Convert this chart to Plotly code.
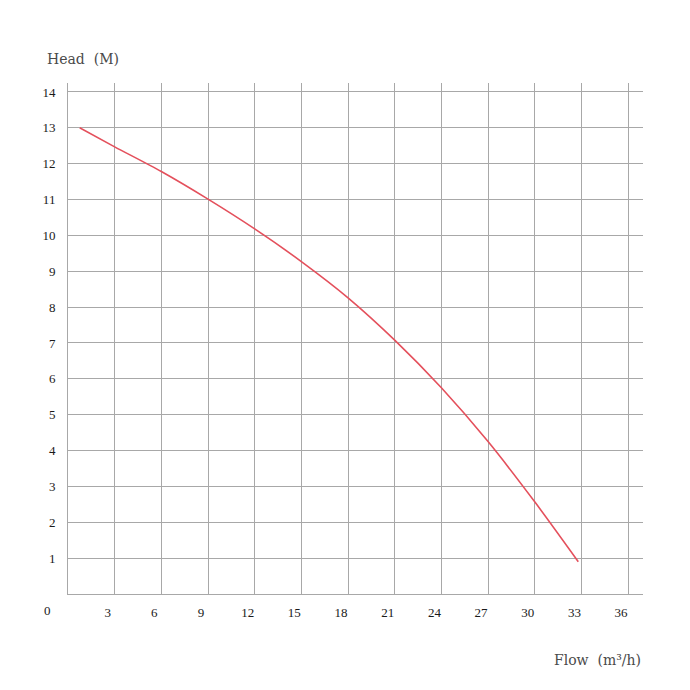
import plotly.graph_objects as go

flow = [0.75, 3, 6, 9, 12, 15, 18, 21, 24, 27, 30, 32.8]
head = [13.0, 12.47, 11.78, 11.01, 10.18, 9.27, 8.26, 7.08, 5.75, 4.25, 2.57, 0.90]

x_ticks = [3, 6, 9, 12, 15, 18, 21, 24, 27, 30, 33, 36]
y_ticks = list(range(1, 15))

grid = "#a8a8a8"
tickfont = dict(family="Liberation Serif", size=13, color="#1a1a1a")
titlefont = dict(family="DejaVu Serif", size=14, color="#4a4a4a")

fig = go.Figure()
fig.add_trace(go.Scatter(x=flow, y=head, mode="lines",
                         line=dict(color="#e4505c", width=1.6, shape="spline", smoothing=0.8),
                         hoverinfo="skip", showlegend=False))

fig.update_layout(
    width=682, height=682,
    margin=dict(l=60, r=47, t=75, b=96),
    paper_bgcolor="white", plot_bgcolor="white",
    showlegend=False,
    xaxis=dict(range=[0, 36.96], tickvals=x_ticks, ticktext=[str(v) for v in x_ticks],
               showgrid=True, gridcolor=grid, gridwidth=1, zeroline=False,
               showline=True, linecolor=grid, linewidth=1,
               ticks="", tickfont=tickfont, ticklabelshift=-7, ticklabelstandoff=6,
               fixedrange=True),
    yaxis=dict(range=[0, 14.25], tickvals=y_ticks, ticktext=[str(v) for v in y_ticks],
               showgrid=True, gridcolor=grid, gridwidth=1, zeroline=False,
               showline=True, linecolor=grid, linewidth=1,
               ticks="", tickfont=tickfont, ticklabelstandoff=9,
               fixedrange=True),
    annotations=[
        dict(text="Head  (M)", xref="paper", yref="paper", x=-0.04, y=1.0, yshift=24,
             xanchor="left", yanchor="middle", showarrow=False, font=titlefont),
        dict(text="Flow  (m³/h)", xref="paper", yref="paper", x=1.0, y=0, yshift=-66,
             xanchor="right", yanchor="middle", showarrow=False, font=titlefont),
        dict(text="0", xref="x", yref="paper", x=0, y=0, xshift=-21, yshift=-16,
             xanchor="center", yanchor="middle", showarrow=False, font=tickfont),
    ],
)

fig.write_html("out.html")
